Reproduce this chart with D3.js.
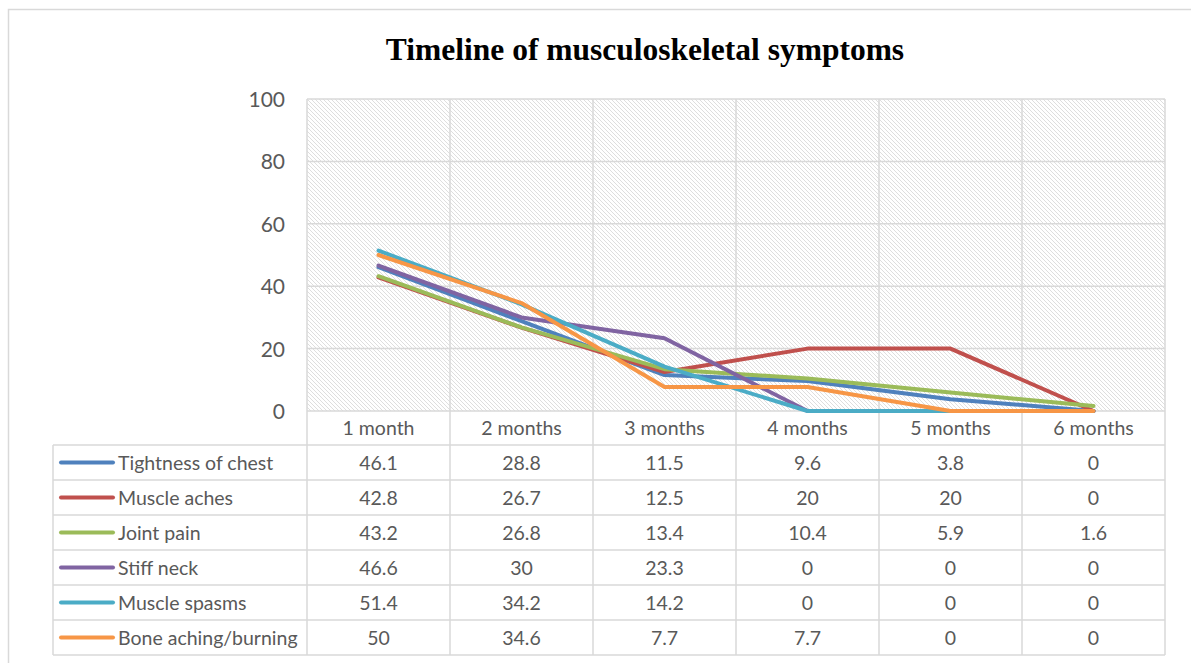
<!DOCTYPE html>
<html>
<head>
<meta charset="utf-8">
<script src="https://cdn.jsdelivr.net/npm/d3@7"></script>
<style>
  html, body { margin: 0; padding: 0; background: #fff; }
  svg { display: block; }
</style>
</head>
<body>
<svg id="chart" width="1191" height="663"></svg>
<script>
// Timeline categories and symptom series (percent of respondents)
const categories = ["1 month", "2 months", "3 months", "4 months", "5 months", "6 months"];
const seriesNames = ["Tightness of chest", "Muscle aches", "Joint pain", "Stiff neck", "Muscle spasms", "Bone aching/burning"];
const tightnessOfChest = [46.1, 28.8, 11.5, 9.6, 3.8, 0];
const muscleAches = [42.8, 26.7, 12.5, 20, 20, 0];
const jointPain = [43.2, 26.8, 13.4, 10.4, 5.9, 1.6];
const stiffNeck = [46.6, 30, 23.3, 0, 0, 0];
const muscleSpasms = [51.4, 34.2, 14.2, 0, 0, 0];
const boneAching = [50, 34.6, 7.7, 7.7, 0, 0];
const seriesColors = ["#4F81BD", "#C0504D", "#9BBB59", "#8064A2", "#4BACC6", "#F79646"];
const yTicks = [0, 20, 40, 60, 80, 100];

const series = seriesNames.map((name, i) => ({
  name,
  color: seriesColors[i],
  values: [tightnessOfChest, muscleAches, jointPain, stiffNeck, muscleSpasms, boneAching][i]
}));

const svg = d3.select("#chart");
const gridColor = "#d9d9d9";
const textColor = "#595959";
const font = "Lato, 'Open Sans', sans-serif";
const tableFontSize = 19.5;

// Outer chart frame
svg.append("rect")
  .attr("x", 8.5).attr("y", 9.5)
  .attr("width", 1200).attr("height", 700)
  .attr("fill", "#fff").attr("stroke", "#d9d9d9").attr("stroke-width", 1.5);

// Title
svg.append("text")
  .attr("x", 645).attr("y", 60)
  .attr("text-anchor", "middle")
  .attr("font-family", "'Liberation Serif', 'Times New Roman', serif")
  .attr("font-weight", "bold")
  .attr("font-size", 31.5)
  .attr("fill", "#000")
  .text("Timeline of musculoskeletal symptoms");

// Plot geometry
const plot = { left: 307, right: 1165, top: 99, bottom: 411 };
const x = d3.scaleBand().domain(categories).range([plot.left, plot.right]);
const y = d3.scaleLinear().domain([0, 100]).range([plot.bottom, plot.top]);

// Diagonal hatch fill for the plot area
const defs = svg.append("defs");
const pat = defs.append("pattern")
  .attr("id", "hatch")
  .attr("patternUnits", "userSpaceOnUse")
  .attr("width", 4).attr("height", 4);
pat.append("rect").attr("width", 4).attr("height", 4).attr("fill", "#fff");
pat.append("path")
  .attr("d", "M-1,-1 L5,5 M-1,3 L1,5 M3,-1 L5,1")
  .attr("stroke", "#dedede")
  .attr("stroke-width", 1);

svg.append("rect")
  .attr("x", plot.left).attr("y", plot.top)
  .attr("width", plot.right - plot.left).attr("height", plot.bottom - plot.top)
  .attr("fill", "url(#hatch)");

// Horizontal gridlines
svg.append("g")
  .selectAll("line")
  .data(yTicks)
  .join("line")
  .attr("x1", plot.left).attr("x2", plot.right)
  .attr("y1", d => y(d)).attr("y2", d => y(d))
  .attr("stroke", gridColor).attr("stroke-width", 1.5);

// Data table geometry
const tableLeft = 53;
const headerBottom = 445;
const rowH = 35;
const tableBottom = headerBottom + rowH * series.length;

// Vertical gridlines through plot and data table
const boundaries = categories.map(c => x(c)).concat([plot.right]);
svg.append("g")
  .selectAll("line")
  .data(boundaries)
  .join("line")
  .attr("x1", d => d).attr("x2", d => d)
  .attr("y1", plot.top).attr("y2", tableBottom)
  .attr("stroke", gridColor).attr("stroke-width", 1.5);

// Y axis labels
const yAxis = d3.axisLeft(y).tickValues(yTicks).tickSize(0).tickPadding(0);
const yg = svg.append("g")
  .attr("transform", `translate(${plot.left - 22},0)`)
  .call(yAxis);
yg.select(".domain").remove();
yg.selectAll("text")
  .attr("font-family", font)
  .attr("font-size", 21)
  .attr("fill", textColor)
  .attr("dy", "0.36em");

// Category header row
svg.append("g")
  .selectAll("text")
  .data(categories)
  .join("text")
  .attr("x", d => x(d) + x.bandwidth() / 2)
  .attr("y", 435)
  .attr("text-anchor", "middle")
  .attr("font-family", font)
  .attr("font-size", tableFontSize)
  .attr("fill", textColor)
  .text(d => d);

// Table horizontal rules
const rowLines = d3.range(series.length + 1).map(i => headerBottom + i * rowH);
svg.append("g")
  .selectAll("line")
  .data(rowLines)
  .join("line")
  .attr("x1", tableLeft).attr("x2", plot.right)
  .attr("y1", d => d).attr("y2", d => d)
  .attr("stroke", gridColor).attr("stroke-width", 1.5);
svg.append("line")
  .attr("x1", tableLeft).attr("x2", tableLeft)
  .attr("y1", headerBottom).attr("y2", tableBottom)
  .attr("stroke", gridColor).attr("stroke-width", 1.5);

// Table rows: legend key, series name, values
const rows = svg.append("g")
  .selectAll("g")
  .data(series)
  .join("g")
  .attr("transform", (d, i) => `translate(0,${headerBottom + i * rowH})`);
rows.append("line")
  .attr("x1", 61).attr("x2", 113)
  .attr("y1", rowH / 2).attr("y2", rowH / 2)
  .attr("stroke", d => d.color)
  .attr("stroke-width", 4)
  .attr("stroke-linecap", "round");
rows.append("text")
  .attr("x", 118).attr("y", rowH / 2 + 7)
  .attr("font-family", font)
  .attr("font-size", tableFontSize)
  .attr("fill", textColor)
  .text(d => d.name);
rows.selectAll("text.val")
  .data(d => d.values.map((v, j) => ({ v, c: categories[j] })))
  .join("text")
  .attr("class", "val")
  .attr("x", d => x(d.c) + x.bandwidth() / 2)
  .attr("y", rowH / 2 + 7)
  .attr("text-anchor", "middle")
  .attr("font-family", font)
  .attr("font-size", tableFontSize)
  .attr("fill", textColor)
  .text(d => d.v);

// Series lines
const line = d3.line()
  .x((d, i) => x(categories[i]) + x.bandwidth() / 2)
  .y(d => y(d));
svg.append("g")
  .selectAll("path")
  .data(series)
  .join("path")
  .attr("d", d => line(d.values))
  .attr("fill", "none")
  .attr("stroke", d => d.color)
  .attr("stroke-width", 4)
  .attr("stroke-linejoin", "round")
  .attr("stroke-linecap", "round");
</script>
</body>
</html>
